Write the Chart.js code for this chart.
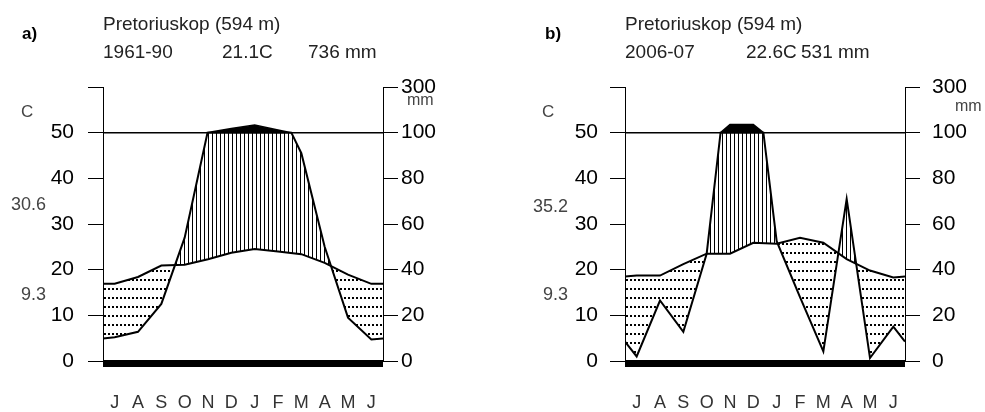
<!DOCTYPE html>
<html>
<head>
<meta charset="utf-8">
<script src="https://cdn.jsdelivr.net/npm/chart.js@4/dist/chart.umd.min.js"></script>
<style>
  body { margin: 0; background: #fff; overflow: hidden; }
  #wrap { position: relative; width: 985px; height: 412px; font-family: "Liberation Sans", Arial, sans-serif; }
  canvas { position: absolute; top: 0; }
  .t { position: absolute; white-space: nowrap; line-height: 1; color: #222; }
  .head { font-size: 19px; }
  .tag { font-size: 17px; font-weight: bold; color: #000; }
  .unit { font-size: 16px; color: #444; }
  .deg { font-size: 17px; color: #444; }
  .ext { font-size: 18px; color: #444; text-align: right; width: 60px; }
</style>
</head>
<body>
<div id="wrap">
  <canvas id="chartA" width="490" height="412" style="left:0"></canvas>
  <canvas id="chartB" width="495" height="412" style="left:490px"></canvas>

  <div class="t tag" style="left:22px;top:25px">a)</div>
  <div class="t head" style="left:103px;top:14px">Pretoriuskop (594 m)</div>
  <div class="t head" style="left:103px;top:42px">1961-90</div>
  <div class="t head" style="left:222px;top:42px">21.1C</div>
  <div class="t head" style="left:308px;top:42px">736 mm</div>
  <div class="t deg" style="left:21px;top:103px">C</div>
  <div class="t unit" style="left:407px;top:92px">mm</div>
  <div class="t ext" style="left:-14px;top:195px">30.6</div>
  <div class="t ext" style="left:-14px;top:285px">9.3</div>

  <div class="t tag" style="left:545px;top:25px">b)</div>
  <div class="t head" style="left:625px;top:14px">Pretoriuskop (594 m)</div>
  <div class="t head" style="left:625px;top:42px">2006-07</div>
  <div class="t head" style="left:746px;top:42px">22.6C</div>
  <div class="t head" style="left:801px;top:42px">531 mm</div>
  <div class="t deg" style="left:542px;top:103px">C</div>
  <div class="t unit" style="left:955px;top:98px">mm</div>
  <div class="t ext" style="left:508px;top:197px">35.2</div>
  <div class="t ext" style="left:508px;top:285px">9.3</div>
</div>

<script>
const months = ['J', 'A', 'S', 'O', 'N', 'D', 'J', 'F', 'M', 'A', 'M', 'J'];

// 1961-90, monthly mean temperature (C) and precipitation (mm), July first
const tempA = [16.9, 18.4, 20.9, 21.1, 22.3, 23.7, 24.5, 24.0, 23.4, 21.5, 18.9, 16.9];
const precA = [10.4, 12.8, 25, 54, 101, 118, 133, 112, 91, 50, 19, 9.4];

// 2006-07
const tempB = [18.7, 18.7, 21.2, 23.5, 23.5, 25.9, 25.7, 27.0, 25.9, 22.3, 19.8, 18.3];
const precB = [2, 26.5, 12.8, 47, 136, 136, 52.5, 28, 4.2, 71, 1.3, 15];


function makePattern(w, h, draw){
    const c = document.createElement('canvas');
    c.width = w;
    c.height = h;
    const g = c.getContext('2d');
    g.fillStyle = '#000';
    draw(g);
    return g.createPattern(c, 'repeat');
}

const hatch = makePattern(4, 4, g => g.fillRect(0, 0, 1, 4));
const dots = makePattern(4, 9, g => g.fillRect(0, 0, 2, 2));

// solid bar under the zero line
const groundBar = {
    id: 'groundBar',
    afterDatasetsDraw(chart){
        const {ctx, chartArea, scales} = chart;
        const y0 = scales.y.getPixelForValue(0);
        ctx.save();
        ctx.fillStyle = '#000';
        ctx.fillRect(chartArea.left, y0 - 1, chartArea.right - chartArea.left, 7);
        ctx.restore();
    }
};

function drawDiagram(id, temps, precs, pad){

    // year wraps round: the ends sit halfway between June and July
    const edgeT = (temps[0] + temps[11]) / 2;
    const edgeP = (precs[0] + precs[11]) / 2;

    const tempPts = [{x: 0, y: edgeT}];
    temps.forEach((t, i) => tempPts.push({x: i + 0.5, y: t}));
    tempPts.push({x: 12, y: edgeT});

    const pts = [{x: 0, p: edgeP}];
    precs.forEach((p, i) => pts.push({x: i + 0.5, p: p}));
    pts.push({x: 12, p: edgeP});

    // where rain crosses 100 mm the scale changes, so split there
    const rain = [];
    pts.forEach((pt, i) => {
        if(i > 0){
            const prev = pts[i - 1];
            if((prev.p - 100) * (pt.p - 100) < 0){
                rain.push({x: prev.x + (100 - prev.p) / (pt.p - prev.p) * (pt.x - prev.x), p: 100});
            }
        }
        rain.push(pt);
    });

    const low = rain.map(r => ({x: r.x, y: Math.min(r.p, 100) / 2}));
    const high = rain.map(r => ({x: r.x, y: r.p > 100 ? 50 + (r.p - 100) / 20 : 50}));

    return new Chart(document.getElementById(id), {
        type: 'line',
        data: {
            datasets: [
                {
                    label: 'Temperature',
                    data: tempPts,
                    borderColor: '#000',
                    borderWidth: 2,
                    fill: false
                },
                {
                    label: 'Precipitation',
                    data: low,
                    borderColor: '#000',
                    borderWidth: 2,
                    fill: {target: 0, above: hatch, below: dots}
                },
                {
                    label: 'Precipitation > 100 mm',
                    data: high,
                    borderColor: '#000',
                    borderWidth: 1.5,
                    backgroundColor: '#000',
                    fill: {value: 50}
                }
            ]
        },
        options: {
            responsive: false,
            animation: false,
            layout: {padding: {top: 87, left: 0, right: 0, bottom: 0}},
            plugins: {
                legend: {display: false},
                tooltip: {enabled: false}
            },
            elements: {
                point: {radius: 0},
                line: {tension: 0}
            },
            scales: {
                x: {
                    type: 'linear',
                    min: 0,
                    max: 12,
                    afterBuildTicks: ax => { ax.ticks = months.map((m, i) => ({value: i + 0.5})); },
                    afterFit: ax => { ax.height = 51; },
                    grid: {display: false},
                    border: {display: false},
                    ticks: {
                        autoSkip: false,
                        maxRotation: 0,
                        padding: 23,
                        color: '#333',
                        font: {size: 18, family: '"Liberation Sans", Arial, sans-serif'},
                        callback: (v, i) => months[i]
                    }
                },
                y: {
                    position: 'left',
                    min: 0,
                    max: 60,
                    afterFit: ax => { ax.width = pad.left; },
                    ticks: {
                        stepSize: 10,
                        padding: pad.lp,
                        color: '#000',
                        font: {size: 21, family: '"Liberation Sans", Arial, sans-serif'},
                        callback: v => v === 60 ? '' : v
                    },
                    grid: {
                        color: c => c.tick && c.tick.value === 50 ? '#000' : 'rgba(0,0,0,0)',
                        tickColor: '#000',
                        tickLength: 15,
                        lineWidth: 1
                    },
                    border: {color: '#000', width: 1}
                },
                y2: {
                    position: 'right',
                    min: 0,
                    max: 60,
                    afterFit: ax => { ax.width = pad.right; },
                    ticks: {
                        stepSize: 10,
                        padding: pad.rp,
                        color: '#000',
                        font: {size: 21, family: '"Liberation Sans", Arial, sans-serif'},
                        callback: v => v === 60 ? '300' : v * 2
                    },
                    grid: {
                        drawOnChartArea: false,
                        tickColor: '#000',
                        tickLength: 15
                    },
                    border: {color: '#000', width: 1}
                }
            }
        },
        plugins: [groundBar]
    });
}

drawDiagram('chartA', tempA, precA, {left: 103, right: 107, lp: 14, rp: 3});
drawDiagram('chartB', tempB, precB, {left: 135, right: 80, lp: 12, rp: 12});
</script>
</body>
</html>
